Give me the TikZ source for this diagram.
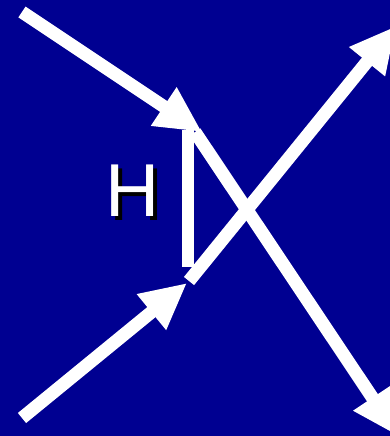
\documentclass[tikz,border=0pt]{standalone}
\usepackage{fontspec}
\setmainfont{Liberation Sans}
\usetikzlibrary{arrows.meta}
\definecolor{bg}{RGB}{0,0,145}
\begin{document}
\begin{tikzpicture}[x=1pt,y=-1pt,
  wline/.style={white, line width=13pt},
  warr/.style={wline, -{Triangle[length=46pt,width=43pt]}},
  hlabel/.style={inner sep=0pt, font=\fontsize{75}{80}\selectfont}]
\fill[bg] (0,0) rectangle (390,436);
\useasboundingbox (0,0) rectangle (390,436);
% coordinates
\coordinate (a1) at (22,12);
\coordinate (a2) at (202,132);
\coordinate (b1) at (22,418);
\coordinate (b2) at (187,283);
\coordinate (v1) at (187.5,130);
\coordinate (v2) at (187.5,267);
\coordinate (c1) at (195,132);
\coordinate (c2) at (398,436);
\coordinate (d1) at (189,281);
\coordinate (d2) at (396,26);
% lines
\draw[wline, line width=12pt] (v1) -- (v2);
\draw[warr] (a1) -- (a2);
\draw[warr] (b1) -- (b2);
\draw[warr] (c1) -- (c2);
\draw[warr] (d1) -- (d2);
% label
\node[hlabel, text=black] (hs) at (136.3,194.3) {H};
\node[hlabel, text=white] (h) at (133,191) {H};
\end{tikzpicture}
\end{document}
